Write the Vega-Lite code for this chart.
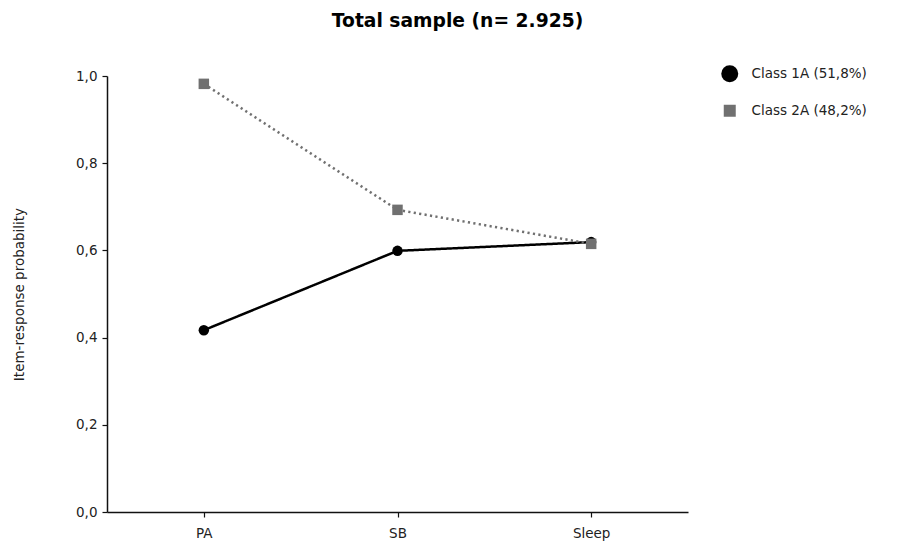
{
  "$schema": "https://vega.github.io/schema/vega-lite/v6.json",
  "width": 581,
  "height": 436,
  "padding": {"left": 12, "top": 12, "right": 5, "bottom": 5},
  "config": {
    "font": "DejaVu Sans",
    "view": {"stroke": null},
    "locale": {"number": {"decimal": ",", "thousands": ".", "grouping": [3], "currency": ["", "€"]}},
    "axis": {"labelFont": "DejaVu Sans", "labelFontSize": 13.5, "labelColor": "#222", "domainColor": "#111", "tickColor": "#111", "grid": false, "domainWidth": 1.5, "tickWidth": 1.2, "tickSize": 5, "titleFont": "DejaVu Sans", "titleFontWeight": "normal", "titleFontSize": 13.5, "titleColor": "#222"},
    "legend": {"labelFont": "DejaVu Sans", "labelFontSize": 13.5, "labelColor": "#222"}
  },
  "title": {"text": "Total sample (n= 2.925)", "font": "DejaVu Sans", "fontSize": 18.7, "fontWeight": "bold", "anchor": "middle", "dx": 60, "offset": 36, "color": "#000"},
  "data": {"values": [
    {"item": "PA", "class": "Class 1A (51,8%)", "p": 0.417},
    {"item": "SB", "class": "Class 1A (51,8%)", "p": 0.599},
    {"item": "Sleep", "class": "Class 1A (51,8%)", "p": 0.619},
    {"item": "PA", "class": "Class 2A (48,2%)", "p": 0.982},
    {"item": "SB", "class": "Class 2A (48,2%)", "p": 0.693},
    {"item": "Sleep", "class": "Class 2A (48,2%)", "p": 0.615}
  ]},
  "encoding": {
    "x": {"field": "item", "type": "nominal", "sort": ["PA", "SB", "Sleep"], "scale": {"type": "point", "padding": 0.5}, "axis": {"title": null, "labelAngle": 0, "labelPadding": 9}},
    "y": {"field": "p", "type": "quantitative", "scale": {"domain": [0, 1], "nice": false}, "axis": {"title": "Item-response probability", "format": ".1f", "values": [0, 0.2, 0.4, 0.6, 0.8, 1.0], "labelPadding": 5, "titlePadding": 49}}
  },
  "layer": [
    {
      "mark": {"type": "line"},
      "encoding": {
        "color": {"field": "class", "type": "nominal", "scale": {"range": ["#000000", "#707070"]}, "legend": {"title": null, "orient": "none", "legendX": 616, "legendY": -9, "symbolSize": 200, "rowPadding": 20, "labelOffset": 15, "symbolOpacity": 1, "symbolType": "circle", "symbolStrokeWidth": 0, "encode": {"symbols": {"update": {"size": {"signal": "datum.value === 'Class 1A (51,8%)' ? 289 : 144"}, "shape": {"signal": "datum.value === 'Class 1A (51,8%)' ? 'circle' : 'square'"}, "fill": {"signal": "datum.value === 'Class 1A (51,8%)' ? '#000000' : '#707070'"}, "strokeWidth": {"value": 0}}}}}},
        "strokeDash": {"field": "class", "type": "nominal", "scale": {"range": [[1, 0], [2.2, 3.3]]}, "legend": null},
        "strokeWidth": {"value": 2.5}
      }
    },
    {
      "mark": {"type": "point", "filled": true, "opacity": 1},
      "encoding": {
        "color": {"field": "class", "type": "nominal"},
        "shape": {"field": "class", "type": "nominal", "scale": {"range": ["circle", "square"]}, "legend": null},
        "size": {"value": 110}
      }
    }
  ]
}
